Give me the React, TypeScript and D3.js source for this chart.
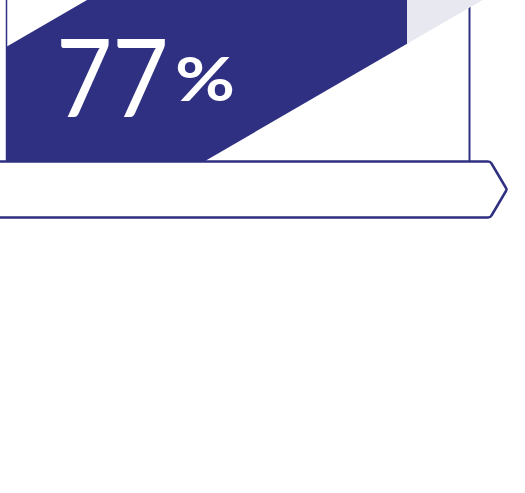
import React from "react";
import * as d3 from "d3";

const W = 525;
const H = 493;

const values = [77];
const valueLabels = ["77"];
const unitLabels = ["%"];
const domain = [0, 100];

const NAVY = "#2f3081";
const LIGHT = "#e8e9f0";

export default function App() {
  const x = d3.scaleLinear().domain(domain).range([6, 527]);
  const v = values[0];
  const xv = x(v);
  const x0 = x(domain[0]);
  const x1 = x(domain[1]);
  const boxBottom = 161;
  const boxTop = -20;
  const rightLineX = 469.5;

  const slope = -0.58;
  const upper = (xx: number) => 47 + slope * (xx - 6);
  const lower = (xx: number) => 161 + slope * (xx - 205);
  const stripe = d3.line()([
    [-50, upper(-50)],
    [600, upper(600)],
    [600, lower(600)],
    [-50, lower(-50)],
  ]) + "Z";

  const tagTop = 161.5;
  const tagBot = 217.5;
  const tagMid = (tagTop + tagBot) / 2;
  const tag = d3.path();
  tag.moveTo(-10, tagTop);
  tag.lineTo(488, tagTop);
  tag.quadraticCurveTo(490.5, tagTop, 491.5, tagTop + 2);
  tag.lineTo(506, tagMid - 1.5);
  tag.quadraticCurveTo(507, tagMid, 506, tagMid + 1.5);
  tag.lineTo(491.5, tagBot - 2);
  tag.quadraticCurveTo(490.5, tagBot, 488, tagBot);
  tag.lineTo(-10, tagBot);

  return (
    <svg
      width={W}
      height={H}
      style={{ position: "absolute", left: 0, top: 0, background: "#fff" }}
    >
      <defs>
        <clipPath id="stripe">
          <path d={stripe} />
        </clipPath>
      </defs>
      <line x1={6.5} x2={6.5} y1={boxTop} y2={boxBottom} stroke={NAVY} strokeWidth={1.5} />
      <line x1={rightLineX} x2={rightLineX} y1={5} y2={boxBottom} stroke={NAVY} strokeWidth={2} />
      <g clipPath="url(#stripe)">
        <rect x={x0} y={boxTop} width={xv - x0} height={boxBottom - boxTop} fill={NAVY} />
        <rect x={xv} y={boxTop} width={x1 - xv} height={boxBottom - boxTop} fill={LIGHT} />
      </g>
      <path d={tag.toString()} fill="#fff" stroke={NAVY} strokeWidth={2.5} strokeLinejoin="round" />
      <text
        transform="translate(56,117) scale(0.9,1)"
        fill="#fff"
        fontFamily="Lato, 'Open Sans', sans-serif"
        fontSize={108}
        fontWeight={400}
      >
        {valueLabels[0]}
      </text>
      <text
        x={175}
        y={101}
        fill="#fff"
        fontFamily="Lato, 'Open Sans', sans-serif"
        fontSize={61}
        fontWeight={700}
        textLength={60}
        lengthAdjust="spacingAndGlyphs"
      >
        {unitLabels[0]}
      </text>
    </svg>
  );
}
